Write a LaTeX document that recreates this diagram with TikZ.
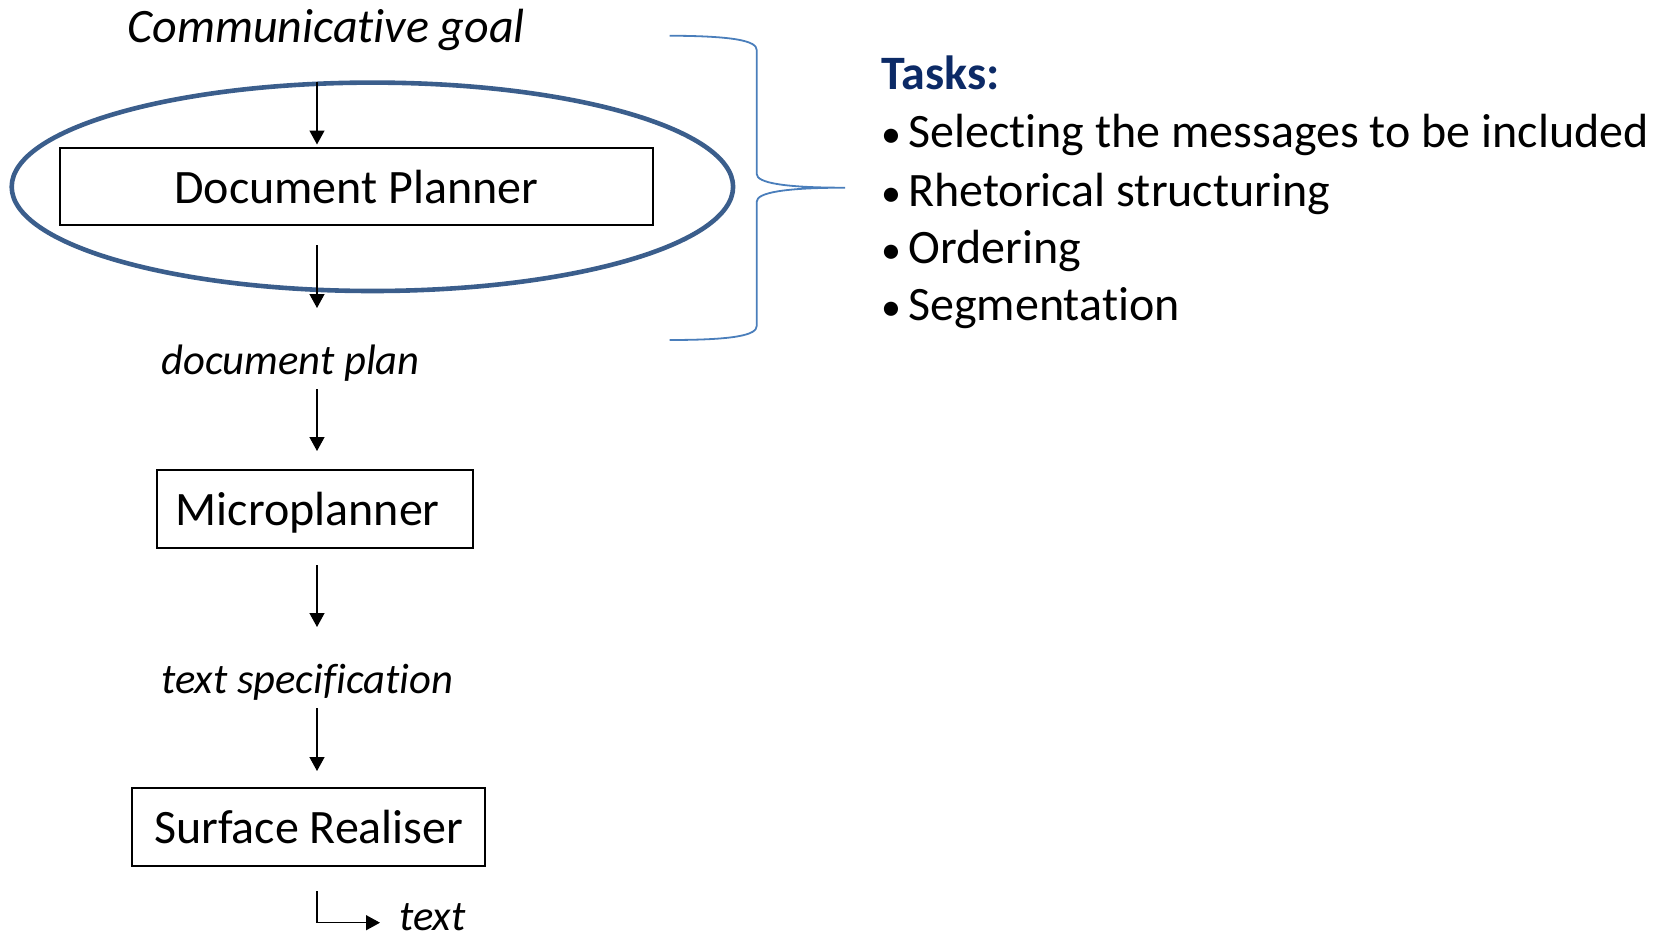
\documentclass[tikz,border=0pt]{standalone}
\usepackage{fontspec}
\setmainfont{Carlito}[Ligatures=NoCommon]
\usetikzlibrary{arrows.meta,shapes.geometric}
\definecolor{ringblue}{HTML}{3B5E8C}
\definecolor{braceblue}{HTML}{4A7EBB}
\definecolor{navy}{HTML}{0C2A66}
\tikzset{
  lbl/.style={anchor=base west, inner sep=0pt, font=\fontsize{24}{29}\selectfont},
  ilbl/.style={lbl, font=\fontsize{24}{29}\selectfont\itshape},
  slbl/.style={lbl, font=\fontsize{21.3}{26}\selectfont\itshape},
  dot/.style={anchor=base west, inner sep=0pt, font=\fontsize{20}{24}\selectfont},
  stage/.style={draw, line width=1pt, inner sep=0pt, text height=16.5pt, text depth=0pt,
    font=\fontsize{24}{29}\selectfont},
  flow/.style={line width=0.7pt, -{Triangle[length=7pt,width=7.5pt]}},
}
\begin{document}
\begin{tikzpicture}[x=0.5pt, y=-0.5pt]
\useasboundingbox (0,0) rectangle (1661,937);

% pipeline stages
\node[stage, minimum width=296.25pt, minimum height=38.8pt] (dp) at (356.3,186.6) {Document Planner};
\node[stage, minimum width=158.25pt, minimum height=38.85pt] (mp) at (315.2,508.9) {Microplanner\kern7.4pt};
\node[stage, minimum width=176.3pt, minimum height=39pt] (sr) at (308.7,826.7) {Surface Realiser};

% highlight ring round the first stage
\node[draw=ringblue, line width=2.3pt, ellipse, inner sep=0pt,
      minimum width=360.7pt, minimum height=104.2pt] (ring) at (372.4,186.8) {};

% intermediate representations
\node[ilbl] (goal) at (127,42) {Communicative goal};
\node[slbl] (plan) at (161,374) {document plan};
\node[slbl] (spec) at (161,693) {text specification};
\node[slbl] (out) at (399,930) {text};

% arrow end points along the pipeline axis
\coordinate (a1s) at (317,82);  \coordinate (a1e) at (317,144.5);
\coordinate (a2s) at (317,245); \coordinate (a2e) at (317,308);
\coordinate (a3s) at (317,389); \coordinate (a3e) at (317,451);
\coordinate (a4s) at (317,565); \coordinate (a4e) at (317,627);
\coordinate (a5s) at (317,708); \coordinate (a5e) at (317,771);
\coordinate (a6s) at (317,891); \coordinate (a6e) at (380,922.7);

\draw[flow] (a1s) -- (a1e);
\draw[flow] (a2s) -- (a2e);
\draw[flow] (a3s) -- (a3e);
\draw[flow] (a4s) -- (a4e);
\draw[flow] (a5s) -- (a5e);
\draw[flow] (a6s) |- (a6e);

% brace gathering the planner's tasks
\draw[braceblue, line width=0.9pt]
  (669.5,35.7) .. controls (735,36) and (756.7,41) .. (756.7,50)
  -- (756.7,174)
  .. controls (756.7,183) and (785,187.7) .. (845,187.7)
  .. controls (785,187.7) and (756.7,192.5) .. (756.7,201.7)
  -- (756.7,326)
  .. controls (756.7,335) and (735,340) .. (669.5,340);

% task list
\node[lbl, font=\fontsize{24}{29}\selectfont\bfseries, text=navy] (tasks) at (881,89.5) {Tasks:};
\node[dot] (b1) at (881,147.5) {•};
\node[lbl] (t1) at (908,147.5) {Selecting the messages to be included};
\node[dot] (b2) at (881,206) {•};
\node[lbl] (t2) at (908,206) {Rhetorical structuring};
\node[dot] (b3) at (881,263.5) {•};
\node[lbl] (t3) at (908,263.5) {Ordering};
\node[dot] (b4) at (881,320.5) {•};
\node[lbl] (t4) at (908,320.5) {Segmentation};
\end{tikzpicture}
\end{document}
